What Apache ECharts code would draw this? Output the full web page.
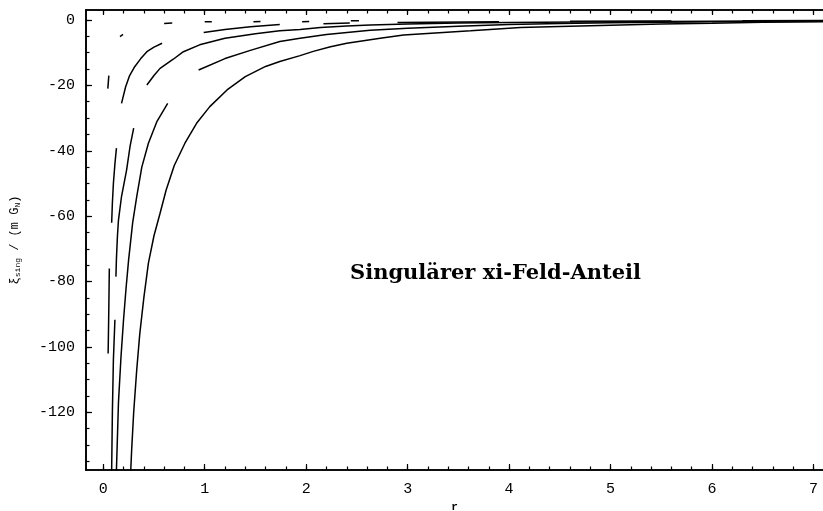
<!DOCTYPE html>
<html>
<head>
<meta charset="utf-8">
<script src="https://cdn.jsdelivr.net/npm/echarts@6/dist/echarts.min.js"></script>
<style>html,body{margin:0;padding:0;background:#fff}#c{width:823px;height:511px}</style>
</head>
<body>
<div id="c"></div>
<script>
// ---- data (null = visible gap in the drawn curve) ----
const xTicks = [0, 1, 2, 3, 4, 5, 6, 7];
const yTicks = [0, -20, -40, -60, -80, -100, -120];
const xRange = [-0.17, 7.094];
const yRange = [-137.66, 3.06];

const curveA = [[0.265,-142],[0.28,-131.5],[0.30,-120],[0.33,-107],[0.36,-96],[0.40,-85],[0.445,-74.4],[0.50,-66],[0.56,-59.1],[0.62,-52],[0.70,-44.5],[0.805,-37.7],[0.92,-31.6],[1.05,-26.5],[1.22,-21.4],[1.40,-17.3],[1.60,-14.2],[1.74,-12.7],[1.94,-10.9],[2.07,-9.6],[2.24,-8.2],[2.40,-7.1],[2.73,-5.6],[2.96,-4.6],[3.35,-3.8],[3.62,-3.3],[3.85,-2.8],[4.11,-2.3],[4.5,-2.0],[5.0,-1.6],[5.5,-1.2],[6.0,-1.0],[6.5,-0.7],[7.1,-0.5]];

const curveB = [[0.128,-142],[0.13,-137.6],[0.15,-117],[0.175,-103],[0.20,-91.7],[0.225,-82],[0.25,-73.4],[0.29,-62],[0.33,-54],[0.38,-45],[0.445,-37.7],[0.53,-31],[0.635,-25.5],
  null,
  [0.94,-15.3],[1.2,-11.8],[1.45,-9.3],[1.74,-6.6],[1.94,-5.6],[2.2,-4.4],[2.63,-3.1],[3.0,-2.5],[3.5,-1.9],[4.0,-1.4],[4.5,-1.1],[5.0,-0.85],[5.5,-0.7],[6.0,-0.55],[6.5,-0.45],[7.1,-0.35]];

const curveC = [[0.081,-142],[0.083,-137.6],[0.09,-120],[0.10,-104],[0.115,-91.7],
  null,
  [0.125,-78.5],[0.13,-73],[0.14,-66],[0.15,-61.2],[0.18,-54],[0.23,-45.9],[0.265,-38.5],[0.30,-33.1],
  null,
  [0.43,-19.9],[0.50,-17],[0.56,-14.8],[0.69,-12.0],[0.79,-9.7],[0.95,-7.6],[1.2,-5.6],[1.5,-4.2],[1.74,-3.3],[1.94,-2.9],[2.14,-2.3],[2.4,-1.8],[2.63,-1.5],[3.0,-1.2],[3.5,-0.95],[4.0,-0.75],[5.0,-0.5],[6.0,-0.35],[7.1,-0.25]];

const curveD = [[0.048,-102],[0.05,-98.4],[0.055,-88],[0.06,-76],
  null,
  [0.083,-62],[0.09,-56],[0.10,-50],[0.115,-44],[0.13,-39.2],
  null,
  [0.18,-25.5],[0.22,-20.5],[0.26,-17],[0.31,-14.3],[0.37,-11.8],[0.43,-9.7],[0.50,-8.3],[0.58,-7.1],
  null,
  [0.99,-3.8],[1.2,-2.9],[1.45,-2.1],[1.74,-1.4],
  null,
  [2.17,-1.15],[2.43,-0.95],
  null,
  [2.9,-0.75],[3.9,-0.5],
  null,
  [4.6,-0.38],[5.6,-0.3],
  null,
  [6.3,-0.22],[7.1,-0.18]];

const curveE = [[0.045,-21],[0.055,-17],
  null, [0.165,-5.1],[0.195,-4.4],
  null, [0.60,-1.05],[0.68,-0.95],
  null, [1.0,-0.55],[1.07,-0.5],
  null, [1.48,-0.5],[1.55,-0.48],
  null, [1.96,-0.5],[2.03,-0.48],
  null, [2.44,-0.25],[2.52,-0.22]];

const curves = [curveA, curveB, curveC, curveD, curveE];

const titleText = 'Singulärer xi-Feld-Anteil';
const xName = 'r';

// ---- build ----
function splitSegments(arr) {
  const segs = []; let cur = [];
  arr.forEach(p => { if (p === null) { if (cur.length) segs.push(cur); cur = []; } else cur.push(p); });
  if (cur.length) segs.push(cur);
  return segs;
}
const xMinor = []; for (let i = 0; i <= 35; i++) xMinor.push(Math.round(i * 2) / 10);
const yMinor = []; for (let i = 0; i <= 27; i++) yMinor.push(-i * 5);

const mono = '"Liberation Mono", "DejaVu Sans Mono", monospace';
const black = '#000';

const series = [];
curves.forEach(c => splitSegments(c).forEach(seg => series.push({
  type: 'line', data: seg, xAxisIndex: 0, yAxisIndex: 0,
  showSymbol: false, symbol: 'none', smooth: false, clip: true, silent: true,
  lineStyle: { color: black, width: 1.5 }, animation: false
})));

function xAx(pos, vals, len, labels, extra) {
  return Object.assign({
    type: 'value', position: pos, min: xRange[0], max: xRange[1], gridIndex: 0,
    axisLine: { show: true, onZero: false, lineStyle: { color: black, width: 1.6 } },
    axisTick: { show: true, inside: true, length: len, customValues: vals, lineStyle: { color: black, width: 1.2 } },
    axisLabel: labels ? { show: true, customValues: vals, fontFamily: mono, fontSize: 15, color: black, margin: 12 } : { show: false },
    splitLine: { show: false }
  }, extra || {});
}
function yAx(vals, len, labels, extra) {
  return Object.assign({
    type: 'value', position: 'left', min: yRange[0], max: yRange[1], gridIndex: 0,
    axisLine: { show: true, onZero: false, lineStyle: { color: black, width: 1.6 } },
    axisTick: { show: true, inside: true, length: len, customValues: vals, lineStyle: { color: black, width: 1.2 } },
    axisLabel: labels ? { show: true, customValues: vals, fontFamily: mono, fontSize: 15, color: black, margin: 11 } : { show: false },
    splitLine: { show: false }
  }, extra || {});
}

const chart = echarts.init(document.getElementById('c'), null, { renderer: 'canvas' });
chart.setOption({
  animation: false,
  backgroundColor: '#fff',
  title: {
    text: titleText, left: 345, top: 258,
    textStyle: { fontFamily: '"DejaVu Serif", "Liberation Serif", serif', fontSize: 21, fontWeight: 'bold', color: black }
  },
  grid: { left: 86, top: 10, right: 0, bottom: 41, containLabel: false, outerBoundsMode: 'none' },
  xAxis: [
    xAx('bottom', xTicks, 6, true, { name: xName, nameLocation: 'middle', nameGap: 31,
      nameTextStyle: { fontFamily: mono, fontSize: 11, fontWeight: 'bold', color: black } }),
    xAx('bottom', xMinor, 3.5, false),
    xAx('top', xTicks, 5, false),
    xAx('top', xMinor, 3.5, false)
  ],
  yAxis: [
    yAx(yTicks, 6, true, {
      name: '{m|ξ}{s|sing}{m| / (m G}{s|N}{m|)}', nameLocation: 'middle', nameRotate: 90, nameGap: 64,
      nameTextStyle: { rich: {
        m: { fontFamily: mono, fontSize: 12, color: black },
        s: { fontFamily: mono, fontSize: 8, color: black, padding: [6, 0, 0, 0] }
      } }
    }),
    yAx(yMinor, 3.5, false)
  ],
  series: series
});
</script>
</body>
</html>
